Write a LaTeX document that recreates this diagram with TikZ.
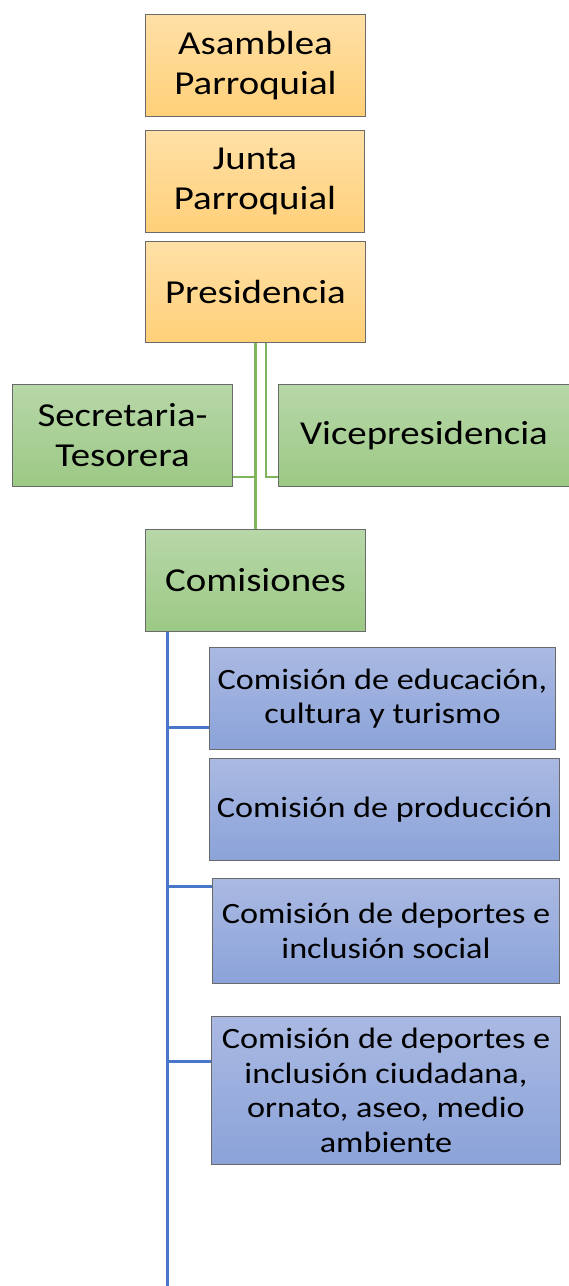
\documentclass[tikz,border=0pt]{standalone}
\usepackage{fontspec}
\setmainfont{Carlito}[FakeStretch=1.16]
\definecolor{orT}{HTML}{FFE0A6}
\definecolor{orB}{HTML}{FFD079}
\definecolor{grT}{HTML}{B7D7A8}
\definecolor{grB}{HTML}{9CC985}
\definecolor{blT}{HTML}{AAB9E2}
\definecolor{blB}{HTML}{8BA3D9}
\definecolor{bord}{HTML}{6A6A6A}
\definecolor{gline}{HTML}{7CB55A}
\definecolor{bline}{HTML}{4A76C9}
\tikzset{
  box/.style={draw=bord, line width=1pt, anchor=north west, inner sep=0pt, align=center},
  obox/.style={box, top color=orT, bottom color=orB, font=\fontsize{33.5}{40}\selectfont},
  gbox/.style={box, top color=grT, bottom color=grB, font=\fontsize{33.5}{40}\selectfont},
  bbox/.style={box, top color=blT, bottom color=blB, font=\fontsize{29.5}{34.5}\selectfont},
  gl/.style={draw=gline, line width=2.6pt},
  bl/.style={draw=bline, line width=3pt}
}
\begin{document}
\begin{tikzpicture}[x=1pt,y=-1pt]
\useasboundingbox[fill=white] (0,0) rectangle (568,1286);
\node[obox, minimum width=220pt, minimum height=102pt] (asam) at (145,14) {Asamblea\\Parroquial};
\node[obox, minimum width=219pt, minimum height=102pt] (junta) at (145,130) {Junta\\Parroquial};
\node[obox, minimum width=220pt, minimum height=101pt] (pres) at (145,241) {Presidencia};
\node[gbox, minimum width=220pt, minimum height=102pt] (sec) at (12,384) {Secretaria-\\Tesorera};
\node[gbox, minimum width=291pt, minimum height=102pt] (vice) at (278,384) {Vicepresidencia};
\node[gbox, minimum width=220pt, minimum height=102pt] (com) at (145,529) {Comisiones};
\node[bbox, minimum width=346pt, minimum height=102pt] (b1) at (209,647) {Comisión de educación,\\cultura y turismo};
\node[bbox, minimum width=350pt, minimum height=102pt] (b2) at (209,758) {Comisión de producción};
\node[bbox, minimum width=347pt, minimum height=105pt] (b3) at (212,878) {Comisión de deportes e\\inclusión social};
\node[bbox, minimum width=349pt, minimum height=148pt] (b4) at (211,1016) {Comisión de deportes e\\inclusión ciudadana,\\ornato, aseo, medio\\ambiente};
% green connectors
\coordinate (jl) at ([yshift=10pt]sec.south east);
\coordinate (jr) at ([yshift=10pt]vice.south west);
\coordinate (pr) at ([xshift=10.5pt]pres.south);
\draw[gl] (pres.south) -- (com.north);
\draw[gl] (pr) |- (jr);
\draw[gl] (jl) -- (jl -| pres.south);
% blue connectors
\coordinate (bt) at ([xshift=22pt]com.south west);
\coordinate (bb) at (167,1290);
\draw[bl] (bt) -- (bb);
\draw[bl] (bt |- 0,727) -- (b1.west |- 0,727);
\draw[bl] (bt |- 0,886) -- (b3.west |- 0,886);
\draw[bl] (bt |- 0,1061) -- (b4.west |- 0,1061);
\end{tikzpicture}
\end{document}
